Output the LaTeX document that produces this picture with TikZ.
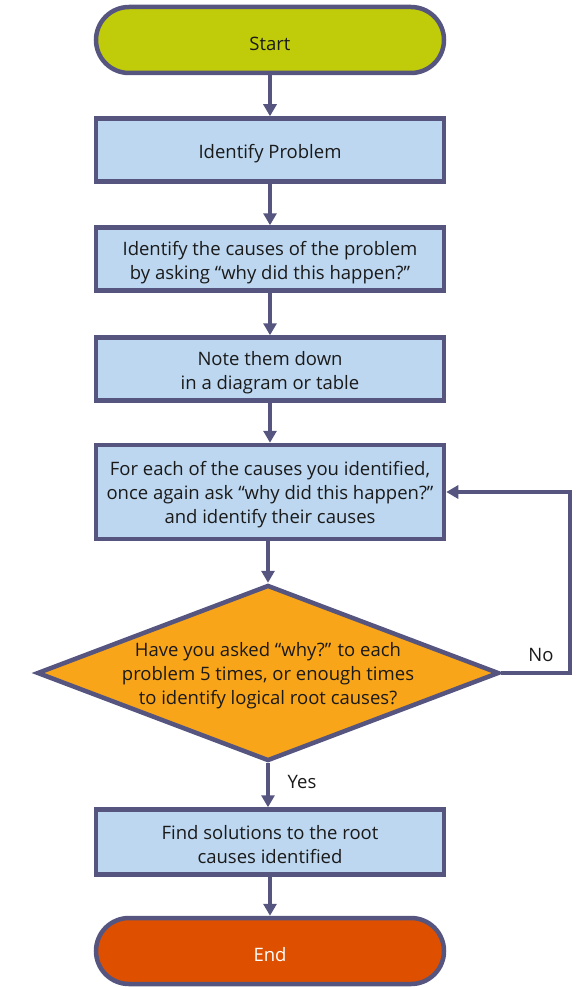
\documentclass[tikz,border=0pt]{standalone}
\usepackage{fontspec}
\setmainfont{Open Sans}
\usetikzlibrary{shapes.geometric,arrows.meta}
\definecolor{edge}{RGB}{85,85,128}
\definecolor{startfill}{RGB}{192,204,10}
\definecolor{boxfill}{RGB}{189,215,240}
\definecolor{decfill}{RGB}{249,165,26}
\definecolor{endfill}{RGB}{222,80,0}
\definecolor{ink}{RGB}{26,26,26}
\begin{document}
\begin{tikzpicture}[x=1pt,y=-1pt,
  every node/.style={font=\fontsize{18.5}{24}\selectfont, text=ink, align=center},
  terminal/.style={rectangle, rounded corners=33pt, draw=edge, line width=4.5pt,
    minimum width=348pt, minimum height=66pt, inner sep=0pt},
  stepbox/.style={rectangle, draw=edge, line width=4.5pt, fill=boxfill,
    minimum width=348pt, inner sep=0pt},
  decision/.style={diamond, draw=edge, line width=4.5pt, fill=decfill,
    minimum width=462pt, minimum height=176pt, inner sep=0pt},
  caption/.style={inner sep=0pt},
  flow/.style={draw=edge, line width=4.5pt,
    -{Triangle[length=12pt,width=13pt]}},
  lbl/.style={font=\fontsize{18.5}{22}\selectfont, text=ink}]
\useasboundingbox (0,0) rectangle (579,987);
% shapes
\node[terminal, fill=startfill] (start) at (270,40) {};
\node[stepbox, minimum height=63pt] (s1) at (270,150) {};
\node[stepbox, minimum height=63pt] (s2) at (270,259) {};
\node[stepbox, minimum height=63pt] (s3) at (270,369) {};
\node[stepbox, minimum height=94pt] (s4) at (270,492) {};
\node[decision] (q) at (268,673) {};
\node[stepbox, minimum height=65pt] (s5) at (270,842) {};
\node[terminal, fill=endfill] (end) at (270,951) {};
% their texts, set slightly below the centre
\node[caption] (startt) at ([yshift=-4pt]start.center) {Start};
\node[caption] (s1t) at ([yshift=-4pt]s1.center) {Identify Problem};
\node[caption] (s2t) at ([yshift=-4pt]s2.center)
  {Identify the causes of the problem\\by asking “why did this happen?”};
\node[caption] (s3t) at ([yshift=-4pt]s3.center)
  {Note them down\\in a diagram or table};
\node[caption] (s4t) at ([yshift=-3pt]s4.center)
  {For each of the causes you identified,\\once again ask “why did this happen?”\\and identify their causes};
\node[caption] (qt) at ([yshift=-3pt]q.center)
  {Have you asked “why?” to each\\problem 5 times, or enough times\\to identify logical root causes?};
\node[caption] (s5t) at ([yshift=-3pt]s5.center)
  {Find solutions to the root\\causes identified};
\node[caption, text=white] (endt) at ([yshift=-4pt]end.center) {End};

\draw[flow] (start) -- (s1);
\draw[flow] (s1) -- (s2);
\draw[flow] (s2) -- (s3);
\draw[flow] (s3) -- (s4);
\draw[flow] (s4.south -| q.north) -- (q.north);
\draw[flow] (q.south) -- (s5.north -| q.south);
\draw[flow] (s5) -- (end);
\coordinate (loop) at (570,673);
\draw[flow] (q.east) -- (loop) |- (s4.east);
\node[lbl] (no) at (541,655) {No};
\node[lbl] (yes) at (302,782) {Yes};
\end{tikzpicture}
\end{document}
